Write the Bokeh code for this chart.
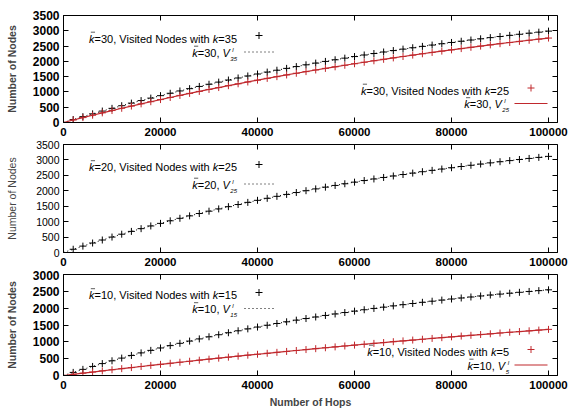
from bokeh.plotting import figure
from bokeh.models import Range1d, LinearAxis, FixedTicker, Label, BasicTickFormatter
from bokeh.layouts import column
from bokeh.embed import file_html
from bokeh.resources import INLINE

# ---------------- data ----------------
hops = list(range(2000, 100001, 2000))
x_ticks = [0, 20000, 40000, 60000, 80000, 100000]
y_ticks_a = [0, 500, 1000, 1500, 2000, 2500, 3000, 3500]
y_ticks_b = [0, 500, 1000, 1500, 2000, 2500, 3000]

# panel 1 (k-bar = 30)
p1_k35 = [97, 191, 283, 374, 463, 549, 634, 717, 798, 878,
          956, 1032, 1107, 1180, 1251, 1321, 1389, 1456, 1522, 1586,
          1649, 1710, 1770, 1829, 1887, 1943, 1998, 2052, 2105, 2157,
          2208, 2257, 2306, 2353, 2400, 2445, 2490, 2533, 2576, 2618,
          2658, 2698, 2737, 2776, 2813, 2850, 2886, 2921, 2955, 2989]
p1_k25 = [81, 160, 238, 315, 391, 465, 538, 610, 680, 750,
          818, 886, 952, 1017, 1081, 1143, 1205, 1266, 1326, 1385,
          1443, 1500, 1555, 1610, 1665, 1718, 1770, 1822, 1872, 1922,
          1971, 2019, 2067, 2113, 2159, 2204, 2248, 2292, 2335, 2377,
          2418, 2459, 2499, 2539, 2578, 2616, 2653, 2690, 2726, 2762]
# panel 2 (k-bar = 20)
p2_k25 = [105, 207, 307, 405, 500, 593, 684, 773, 860, 944,
          1027, 1108, 1187, 1264, 1339, 1413, 1485, 1555, 1624, 1691,
          1756, 1820, 1882, 1943, 2003, 2061, 2118, 2173, 2228, 2280,
          2332, 2383, 2432, 2480, 2527, 2573, 2618, 2662, 2705, 2747,
          2787, 2827, 2866, 2905, 2942, 2978, 3014, 3048, 3082, 3115]
# panel 3 (k-bar = 10)
p3_k15 = [92, 182, 269, 354, 437, 517, 595, 672, 746, 818,
          888, 956, 1022, 1087, 1150, 1211, 1270, 1328, 1385, 1439,
          1493, 1545, 1595, 1644, 1692, 1738, 1784, 1828, 1870, 1912,
          1953, 1992, 2030, 2068, 2104, 2139, 2174, 2207, 2240, 2272,
          2302, 2332, 2362, 2390, 2418, 2444, 2471, 2496, 2521, 2545]
p3_k5 = [35, 69, 103, 137, 170, 203, 235, 268, 300, 331,
         363, 394, 424, 455, 485, 515, 544, 574, 603, 631,
         660, 688, 715, 743, 770, 797, 824, 850, 877, 902,
         928, 954, 979, 1004, 1028, 1053, 1077, 1101, 1124, 1148,
         1171, 1194, 1217, 1239, 1262, 1284, 1306, 1327, 1349, 1370]

kbar_vals = ["30", "20", "10"]

# ---------------- styling ----------------
FONT = "Liberation Sans"
RED = "#c0282d"
X_END = 101850
FRAME_L, FRAME_W = 63, 494
LS = 11      # legend font size
SS = 6       # sub/superscript size
DOT = "1 3"

W = {'k': 500, '=': 584, ',': 278, ' ': 278, 'V': 667, 'i': 222, 's': 500, 't': 278,
     'e': 556, 'd': 556, 'N': 722, 'o': 556, 'w': 722, 'h': 556, 'l': 222}


def tw(s, size):
    return sum(W.get(c, 556) for c in s) / 1000.0 * size


panels = [dict(top=15, h=107, ymax=3500, off=0),
          dict(top=144, h=108, ymax=3500, off=140),
          dict(top=274, h=101, ymax=3000, off=270)]


def to_data(pi, px, py):
    pn = panels[pi]
    return ((px - FRAME_L) / FRAME_W * X_END,
            (pn['top'] + pn['h'] - py) / pn['h'] * pn['ymax'])


def make_fig(pi, height, bottom, yticks, ytick_style, ytick_size, ylab_style, ylab_standoff, xlabel=None):
    pn = panels[pi]
    p = figure(width=569, height=height, output_backend="svg", toolbar_location=None,
               x_range=Range1d(0, X_END), y_range=Range1d(0, pn['ymax']),
               min_border_left=FRAME_L, min_border_right=569 - FRAME_L - FRAME_W,
               min_border_top=pn['top'] - pn['off'], min_border_bottom=bottom)
    p.xgrid.visible = False
    p.ygrid.visible = False
    p.outline_line_color = "black"
    p.outline_line_width = 1
    p.background_fill_color = "white"
    p.border_fill_color = "white"

    xa = p.xaxis[0]
    ya = p.yaxis[0]
    xa.ticker = FixedTicker(ticks=x_ticks)
    xa.formatter = BasicTickFormatter(use_scientific=False)
    ya.ticker = FixedTicker(ticks=yticks)
    for ax in (xa, ya):
        ax.major_tick_in = 5
        ax.major_tick_out = 0
        ax.minor_tick_in = 0
        ax.minor_tick_out = 0
        ax.axis_line_color = "black"
        ax.major_tick_line_color = "black"
        ax.major_label_text_font = FONT
        ax.major_label_text_color = "black"
    xa.major_label_text_font_size = "11.5px"
    xa.major_label_text_font_style = "bold"
    xa.major_label_standoff = 5
    ya.major_label_text_font_size = ytick_size
    ya.major_label_text_font_style = ytick_style
    ya.major_label_standoff = 4
    ya.axis_label = "Number of Nodes"
    ya.axis_label_text_font = FONT
    ya.axis_label_text_font_size = "10.5px"
    ya.axis_label_text_font_style = ylab_style
    ya.axis_label_standoff = ylab_standoff
    if xlabel:
        xa.axis_label = xlabel
        xa.axis_label_text_font = FONT
        xa.axis_label_text_font_size = "10.5px"
        xa.axis_label_text_font_style = "bold"
        xa.axis_label_standoff = 4

    # mirror ticks on the top and right edges
    for loc, tk in (("right", yticks), ("above", x_ticks)):
        ax = LinearAxis(ticker=FixedTicker(ticks=tk), major_tick_in=5, major_tick_out=0,
                        minor_tick_in=0, minor_tick_out=0, axis_line_color=None,
                        major_tick_line_color="black", major_label_text_color=None,
                        major_label_text_font_size="1px", major_label_standoff=0)
        p.add_layout(ax, loc)
    return p


def put_text(p, pi, px, pyc, txt, size, style, align="left"):
    x, y = to_data(pi, px, pyc)
    p.add_layout(Label(x=x, y=y, text=txt, text_font=FONT, text_font_size=f"{size}px",
                       text_font_style=style, text_align=align, text_baseline="middle",
                       text_color="black"))


def seg_line(p, pi, px1, px2, py, color, dash="solid", width=1.0):
    x1, y = to_data(pi, px1, py)
    x2, _ = to_data(pi, px2, py)
    p.line(x=[x1, x2], y=[y, y], line_color=color, line_width=width, line_dash=dash)


def kbar(p, pi, x, yc):
    # italic k with an overbar
    put_text(p, pi, x, yc, "k", LS, "italic")
    seg_line(p, pi, x + 1.8, x + 6.0, yc - 6.3, "#333333", "solid", 0.8)


def key_line1(p, pi, x_right, yc, kb, kval):
    segs = [("k", "kbar"), (f"={kb}, Visited Nodes with ", "normal"),
            ("k", "italic"), (f"={kval}", "normal")]
    x = x_right - sum(tw(s, LS) for s, _ in segs)
    for s, st in segs:
        if st == "kbar":
            kbar(p, pi, x, yc)
        else:
            put_text(p, pi, x, yc, s.rstrip(), LS, st)
        x += tw(s, LS)


def key_line2(p, pi, x_right, yc, kb, sub):
    segs = [("k", "kbar"), (f"={kb}, ", "normal"), ("V", "italic")]
    sub_w = tw(sub, SS)
    x = x_right - sum(tw(s, LS) for s, _ in segs) - sub_w - 0.5
    for s, st in segs:
        if st == "kbar":
            kbar(p, pi, x, yc)
        else:
            put_text(p, pi, x, yc, s.rstrip(), LS, st)
        x += tw(s, LS)
    put_text(p, pi, x + 0.5, yc + 6, sub, SS, "italic")
    put_text(p, pi, x + 2.5, yc - 3, "l", SS, "italic")


def sample_marker(p, pi, px, py, color):
    x, y = to_data(pi, px, py)
    p.scatter(x=[x], y=[y], marker="cross", size=7, line_color=color, line_width=1)


def series(p, vals, color, dash):
    p.line(x=[0] + hops, y=[0] + vals, line_color=color,
           line_width=1 if dash != "solid" else 1.2, line_dash=dash)
    p.scatter(x=hops, y=vals, marker="cross", size=7, line_color=color, line_width=1)


# ---------------- panel 1 ----------------
p1 = make_fig(0, 140, 18, y_ticks_a, "bold", "12px", "bold", 12)
series(p1, p1_k35, "black", DOT)
series(p1, p1_k25, RED, "solid")
key_line1(p1, 0, 236.5, 38, kbar_vals[0], "35")
sample_marker(p1, 0, 258.5, 35, "black")
key_line2(p1, 0, 236.5, 52, kbar_vals[0], "35")
seg_line(p1, 0, 244, 273, 51.5, "black", DOT)
key_line1(p1, 0, 508.5, 90, kbar_vals[0], "25")
sample_marker(p1, 0, 530.5, 87.5, RED)
key_line2(p1, 0, 508.5, 103.5, kbar_vals[0], "25")
seg_line(p1, 0, 514, 547, 103, RED, "solid", 1.2)

# ---------------- panel 2 ----------------
p2 = make_fig(1, 130, 18, y_ticks_a, "normal", "10.5px", "normal", 15)
series(p2, p2_k25, "black", DOT)
key_line1(p2, 1, 236.5, 166.5, kbar_vals[1], "25")
sample_marker(p2, 1, 258.5, 164, "black")
key_line2(p2, 1, 236.5, 184, kbar_vals[1], "25")
seg_line(p2, 1, 244, 273, 183.5, "black", DOT)

# ---------------- panel 3 ----------------
p3 = make_fig(2, 140, 35, y_ticks_b, "bold", "12px", "bold", 12, xlabel="Number of Hops")
series(p3, p3_k15, "black", DOT)
series(p3, p3_k5, RED, "solid")
key_line1(p3, 2, 236.5, 294.5, kbar_vals[2], "15")
sample_marker(p3, 2, 258.5, 292, "black")
key_line2(p3, 2, 236.5, 308.5, kbar_vals[2], "15")
seg_line(p3, 2, 244, 273, 308, "black", DOT)
key_line1(p3, 2, 508.5, 351, kbar_vals[2], "5")
sample_marker(p3, 2, 530.5, 349, RED)
key_line2(p3, 2, 508.5, 365, kbar_vals[2], "5")
seg_line(p3, 2, 514, 547, 364.5, RED, "solid", 1.2)

layout = column(p1, p2, p3, spacing=0)
open("out.html", "w").write(file_html(layout, INLINE))
